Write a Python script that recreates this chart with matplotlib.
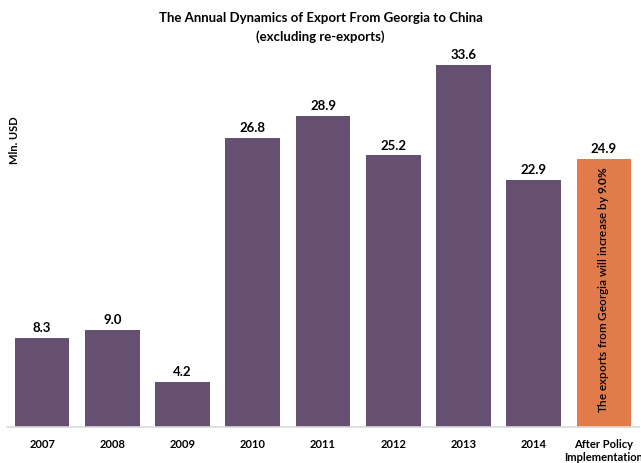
import numpy as np
import matplotlib.pyplot as plt

plt.rcParams['font.family'] = ['Lato', 'DejaVu Sans']
plt.rcParams['font.sans-serif'] = ['Lato']
plt.rcParams['mathtext.fontset'] = 'custom'
plt.rcParams['mathtext.bf'] = 'sans:bold'
plt.rcParams['mathtext.rm'] = 'sans'

categories = ['2007', '2008', '2009', '2010', '2011', '2012', '2013', '2014',
              'After Policy\nImplementation']
values = [8.3, 9.0, 4.2, 26.8, 28.9, 25.2, 33.6, 22.9, 24.9]
colors = ['#655072'] * 8 + ['#E27B4A']

fig = plt.figure(figsize=(6.41, 4.64), dpi=100)
ax = fig.add_axes([7 / 641, 36 / 464, 632 / 641, 388 / 464])

x = np.arange(len(categories))
ax.bar(x, values, width=0.78, color=colors)
for xi, v in zip(x, values):
    ax.text(xi, v + 0.45, '%.1f' % v, ha='center', va='bottom',
            fontsize=9.5, fontweight='bold')

ax.text(x[-1], 12.8, r'The exports from Georgia will increase by $\mathbf{9.0\%}$',
        rotation=90, ha='center', va='center', fontsize=8.5, fontweight='semibold')

ax.set_xlim(-0.5, 8.5)
ax.set_ylim(0, 36)
ax.set_xticks(x)
ax.set_xticklabels(categories, fontsize=8, fontweight='bold')
ax.tick_params(axis='x', length=0, pad=8)
ax.set_yticks([])
for s in ['top', 'right', 'left']:
    ax.spines[s].set_visible(False)
ax.spines['bottom'].set_color('#D9D9D9')
ax.spines['bottom'].set_linewidth(1.2)

fig.text(15 / 641, 1 - 140 / 464, 'Mln. USD', rotation=90, ha='center', va='center',
         fontsize=8, fontweight='bold')
fig.text(0.5, 1 - 18 / 464, 'The Annual Dynamics of Export From Georgia to China',
         ha='center', va='center', fontsize=9.5, fontweight='bold')
fig.text(0.5, 1 - 37 / 464, '(excluding re-exports)',
         ha='center', va='center', fontsize=9.5, fontweight='bold')

fig.savefig('out.png', dpi=100)
